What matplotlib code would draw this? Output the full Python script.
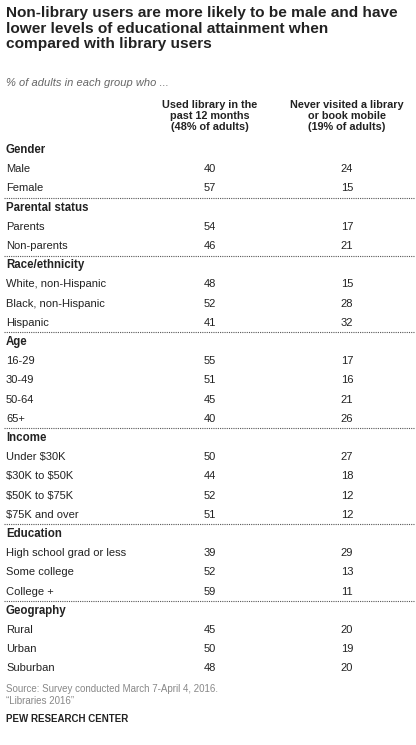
import matplotlib.pyplot as plt
from matplotlib.lines import Line2D

plt.rcParams['text.parse_math'] = False
W, H = 416, 745
groups = ["Gender", "Parental status", "Race/ethnicity", "Age", "Income", "Education", "Geography"]
labels = [["Male", "Female"], ["Parents", "Non-parents"],
          ["White, non-Hispanic", "Black, non-Hispanic", "Hispanic"],
          ["16-29", "30-49", "50-64", "65+"],
          ["Under $30K", "$30K to $50K", "$50K to $75K", "$75K and over"],
          ["High school grad or less", "Some college", "College +"],
          ["Rural", "Urban", "Suburban"]]
used = [[40, 57], [54, 46], [48, 52, 41], [55, 51, 45, 40], [50, 44, 52, 51], [39, 52, 59], [45, 50, 48]]
never = [[24, 15], [17, 21], [15, 28, 32], [17, 16, 21, 26], [27, 18, 12, 12], [29, 13, 11], [20, 19, 20]]
col_heads = ["Used library in the\npast 12 months\n(48% of adults)",
             "Never visited a library\nor book mobile\n(19% of adults)"]

fig = plt.figure(figsize=(W/100, H/100), dpi=100)
ax = fig.add_axes([0, 0, 1, 1])
ax.set_xlim(0, W); ax.set_ylim(H, 0); ax.axis("off")
F = "Liberation Sans"
dark = "#222222"

ax.text(6, 6, "Non-library users are more likely to be male and have\nlower levels of educational attainment when\ncompared with library users",
        fontsize=11.1, fontweight="bold", family=F, va="top", color=dark, linespacing=1.15)
ax.text(6, 78, "% of adults in each group who ...", fontsize=8, style="italic", family=F, color="#666666", va="top")
cx = [210, 347]
for x, h in zip(cx, col_heads):
    ax.text(x, 100, h, fontsize=7.8, fontweight="bold", family=F, ha="center", va="top", color=dark, linespacing=1.1)

y = 150
step = 19.2
for gi, g in enumerate(groups):
    ax.text(6, y, g, fontsize=8.3, fontweight="bold", family=F, va="center", color=dark)
    y += step
    for lab, u, n in zip(labels[gi], used[gi], never[gi]):
        ax.text(6, y, lab, fontsize=8, family=F, va="center", color=dark)
        ax.text(cx[0], y, str(u), fontsize=8, family=F, va="center", ha="center", color=dark)
        ax.text(cx[1], y, str(n), fontsize=8, family=F, va="center", ha="center", color=dark)
        y += step
    if gi < len(groups) - 1:
        ax.add_line(Line2D([4, 414], [y - step/2, y - step/2], color="#555555", lw=0.8, ls=(0, (1, 1))))

ax.text(6, 684, "Source: Survey conducted March 7-April 4, 2016.\n\u201cLibraries 2016\u201d", fontsize=7, family=F,
        color="#888888", va="top", linespacing=1.2)
ax.text(6, 719, "PEW RESEARCH CENTER", fontsize=7, fontweight="bold", family=F, color=dark, va="center")
fig.savefig("out.png", dpi=100, facecolor="white")
